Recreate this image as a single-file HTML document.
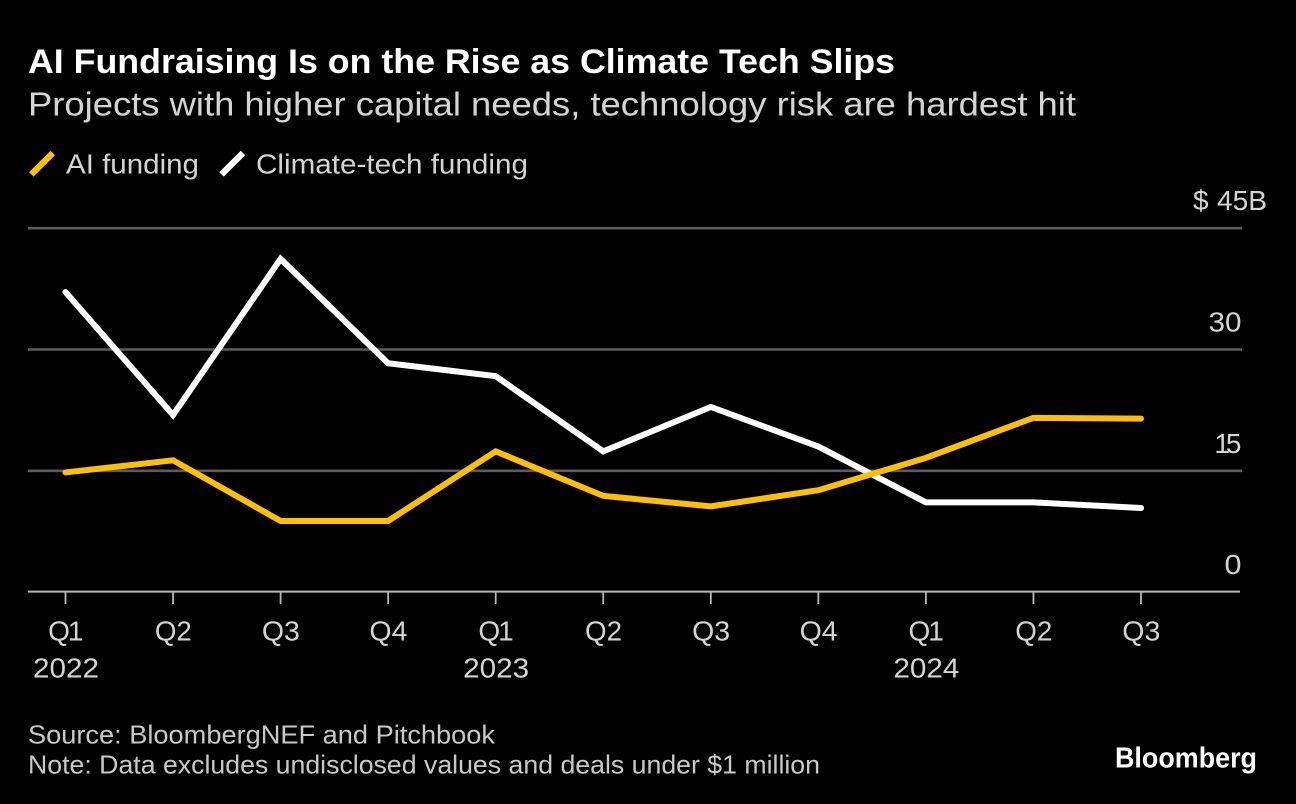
<!DOCTYPE html>
<html lang="en">
<head>
<meta charset="utf-8">
<title>AI Fundraising Is on the Rise as Climate Tech Slips</title>
<style>
html,body{margin:0;padding:0;background:#000;}
body{width:1296px;height:804px;overflow:hidden;}
svg{display:block;font-family:"Liberation Sans",Arial,sans-serif;}
</style>
</head>
<body>
<svg id="chart" width="1296" height="804" viewBox="0 0 1296 804" xmlns="http://www.w3.org/2000/svg">
  <rect width="1296" height="804" fill="#000"/>
  <text x="28" y="73" font-size="34" font-weight="700" fill="#fff" textLength="867" lengthAdjust="spacingAndGlyphs">AI Fundraising Is on the Rise as Climate Tech Slips</text>
  <text x="28" y="115.5" font-size="33" fill="#d4d4d4" textLength="1048" lengthAdjust="spacingAndGlyphs">Projects with higher capital needs, technology risk are hardest hit</text>

  <line x1="31.3" y1="174.4" x2="52.8" y2="153" stroke="#ffc000" stroke-width="6.4"/>
  <text x="66" y="173.3" font-size="28" fill="#d4d4d4" textLength="133" lengthAdjust="spacingAndGlyphs">AI funding</text>
  <line x1="221.5" y1="174.4" x2="243" y2="153" stroke="#fff" stroke-width="6.4"/>
  <text x="256" y="173.3" font-size="28" fill="#d4d4d4" textLength="272" lengthAdjust="spacingAndGlyphs">Climate-tech funding</text>

  <g id="grid"></g>
  <g id="yLabels"></g>
  <g id="xAxis"></g>
  <g id="lines"></g>

  <text x="28" y="743.5" font-size="26" fill="#c8c8c8" textLength="467" lengthAdjust="spacingAndGlyphs">Source: BloombergNEF and Pitchbook</text>
  <text x="28" y="773.3" font-size="26" fill="#c8c8c8" textLength="792" lengthAdjust="spacingAndGlyphs">Note: Data excludes undisclosed values and deals under $1 million</text>
  <text x="1115" y="767.7" font-size="29" font-weight="700" fill="#fff" textLength="142" lengthAdjust="spacingAndGlyphs">Bloomberg</text>
</svg>
<script>
const quarters = ['Q1','Q2','Q3','Q4','Q1','Q2','Q3','Q4','Q1','Q2','Q3'];
const years = ['2022','','','','2023','','','','2024','',''];
const aiFunding = [14.8, 16.3, 8.8, 8.8, 17.4, 11.9, 10.6, 12.6, 16.6, 21.55, 21.45];
const climateFunding = [37.1, 21.9, 41.2, 28.3, 26.7, 17.4, 22.9, 18.0, 11.1, 11.1, 10.4];
const yTicks = [0, 15, 30, 45];
const yTickLabels = ['0', '15', '30', '45B'];
const currencyPrefix = '$';

const NS = 'http://www.w3.org/2000/svg';
const labelWidths = {Q2: 37, Q3: 38, Q4: 38, '0': 17, '30': 33, '45B': 50};
const labelSpacing = {Q1: -2, '15': -4};
const xAt = i => 65.5 + (1141 - 65.5) * i / (quarters.length - 1);
const yAt = v => 592.1 - (592.1 - 228.2) * v / 45;
const AXIS_Y = 591.6;

function make(tag, attrs, parent, text) {
  const el = document.createElementNS(NS, tag);
  for (const k in attrs) el.setAttribute(k, attrs[k]);
  if (text !== undefined) el.textContent = text;
  parent.appendChild(el);
  return el;
}

function fitLabel(el, label) {
  if (labelWidths[label]) {
    el.setAttribute('textLength', labelWidths[label]);
    el.setAttribute('lengthAdjust', 'spacingAndGlyphs');
  }
  if (labelSpacing[label]) {
    el.setAttribute('letter-spacing', labelSpacing[label]);
  }
}

const grid = document.getElementById('grid');
const yLabels = document.getElementById('yLabels');
yTicks.forEach((t, i) => {
  if (t !== 0) {
    const g = make('line', {x1: 28, x2: 1242, y1: yAt(t), y2: yAt(t), stroke: '#5c5c5c', 'stroke-width': 2.6}, grid);
    
    
  }
  const top = i === yTicks.length - 1;
  const right = (top ? 1267 : 1241.5) + (labelSpacing[yTickLabels[i]] || 0);
  const l = make('text', {x: right, y: yAt(t) - 18, 'text-anchor': 'end', 'font-size': 28, fill: '#d4d4d4'}, yLabels, yTickLabels[i]);
  fitLabel(l, yTickLabels[i]);
  
  
  if (top) {
    const c = make('text', {x: 1193, y: yAt(t) - 18, 'font-size': 28, fill: '#d4d4d4'}, yLabels, currencyPrefix);
    
    
  }
});

const xAxis = document.getElementById('xAxis');
const base = make('line', {x1: 28, x2: 1240, y1: AXIS_Y, y2: AXIS_Y, stroke: '#b8b8b8', 'stroke-width': 2}, xAxis);


quarters.forEach((q, i) => {
  const tick = make('line', {x1: xAt(i), x2: xAt(i), y1: AXIS_Y, y2: 604, stroke: '#b8b8b8', 'stroke-width': 1.8}, xAxis);
  
  
  const ql = make('text', {x: xAt(i) + 0.3 + (labelSpacing[q] || 0) / 2, y: 640.7, 'text-anchor': 'middle', 'font-size': 28, fill: '#d4d4d4'}, xAxis, q);
  fitLabel(ql, q);
  
  
  if (years[i]) {
    const yl = make('text', {x: xAt(i) + 0.5, y: 677.3, 'text-anchor': 'middle', 'font-size': 28, fill: '#d4d4d4', textLength: 66, lengthAdjust: 'spacingAndGlyphs'}, xAxis, years[i]);
    
    
  }
});

const linesGroup = document.getElementById('lines');
const pts = arr => arr.map((v, i) => xAt(i).toFixed(2) + ',' + yAt(v).toFixed(2)).join(' ');
const climateLine = make('polyline', {points: pts(climateFunding), fill: 'none', stroke: '#ffffff', 'stroke-width': 6, 'stroke-linejoin': 'miter', 'stroke-linecap': 'round'}, linesGroup);


const aiLine = make('polyline', {points: pts(aiFunding), fill: 'none', stroke: '#ffc000', 'stroke-width': 6, 'stroke-linejoin': 'miter', 'stroke-linecap': 'round'}, linesGroup);


</script>
</body>
</html>
